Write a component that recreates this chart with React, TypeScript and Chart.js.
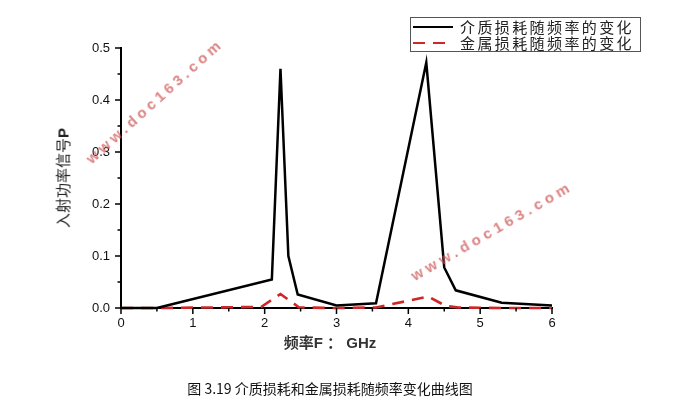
import { useEffect, useRef } from 'react';
import { Chart, registerables } from 'chart.js';

Chart.register(...registerables);

// frequency (GHz) / power values
const dielectricFreq = [0, 0.5, 2.1, 2.22, 2.33, 2.46, 3.0, 3.55, 4.25, 4.5, 4.66, 5.3, 6.0];
const dielectricLoss = [0, 0, 0.055, 0.46, 0.1, 0.026, 0.005, 0.009, 0.472, 0.078, 0.034, 0.01, 0.005];

const metalFreq = [0, 0.5, 1.95, 2.22, 2.48, 3.0, 3.55, 4.28, 4.52, 4.7, 5.3, 6.0];
const metalLoss = [0, 0, 0.002, 0.027, 0.001, 0, 0.001, 0.022, 0.004, 0.001, 0, 0];

const seriesNames = ['介质损耗随频率的变化', '金属损耗随频率的变化'];
const seriesColors = ['#000000', '#cf2727'];

const xMajor = [0, 1, 2, 3, 4, 5, 6];
const xMinor = [0.5, 1.5, 2.5, 3.5, 4.5, 5.5];
const yMajor = [0, 0.1, 0.2, 0.3, 0.4, 0.5];
const yMinor = [0.05, 0.15, 0.25, 0.35, 0.45];

const xTitle = '频率F ： GHz';
const yTitle = '入射功率信号P';
const caption = '图 3.19 介质损耗和金属损耗随频率变化曲线图';
const watermark = 'www.doc163.com';

const tickMarks = {
  id: 'tickMarks',
  afterDraw(chart: any) {
    const { ctx, scales } = chart;
    const x = scales.x;
    const y = scales.y;
    ctx.save();
    ctx.strokeStyle = '#000';
    ctx.lineWidth = 1.5;
    ctx.beginPath();
    xMajor.forEach((v) => {
      const px = x.getPixelForValue(v);
      ctx.moveTo(px, y.bottom);
      ctx.lineTo(px, y.bottom + 6);
    });
    xMinor.forEach((v) => {
      const px = x.getPixelForValue(v);
      ctx.moveTo(px, y.bottom);
      ctx.lineTo(px, y.bottom + 3.5);
    });
    yMajor.forEach((v) => {
      const py = y.getPixelForValue(v);
      ctx.moveTo(x.left, py);
      ctx.lineTo(x.left - 6, py);
    });
    yMinor.forEach((v) => {
      const py = y.getPixelForValue(v);
      ctx.moveTo(x.left, py);
      ctx.lineTo(x.left - 3.5, py);
    });
    ctx.stroke();
    ctx.restore();
  }
};

function LegendSample({ dashed, color }: { dashed: boolean; color: string }) {
  return (
    <svg width="40" height="6" style={{ display: 'block' }}>
      <line x1="0" y1="3" x2="40" y2="3" stroke={color} strokeWidth="2.2"
        strokeDasharray={dashed ? '12 8' : undefined} />
    </svg>
  );
}

export default function App() {
  const canvasRef = useRef<HTMLCanvasElement>(null);
  const chartRef = useRef<Chart | null>(null);

  useEffect(() => {
    if (!canvasRef.current) return;
    if (chartRef.current) chartRef.current.destroy();

    const tickFont = { family: '"Liberation Sans", Arial, sans-serif', size: 13 };

    chartRef.current = new Chart(canvasRef.current, {
      type: 'line',
      data: {
        datasets: [
          {
            label: seriesNames[0],
            data: dielectricFreq.map((f, i) => ({ x: f, y: dielectricLoss[i] })),
            borderColor: seriesColors[0],
            borderWidth: 2.5,
            pointRadius: 0,
            tension: 0,
            fill: false,
            clip: false as any
          },
          {
            label: seriesNames[1],
            data: metalFreq.map((f, i) => ({ x: f, y: metalLoss[i] })),
            borderColor: seriesColors[1],
            borderWidth: 2.6,
            borderDash: [12, 8],
            pointRadius: 0,
            tension: 0,
            fill: false,
            clip: false as any
          }
        ]
      },
      options: {
        responsive: true,
        maintainAspectRatio: false,
        animation: false,
        layout: { padding: { left: 71, right: 129, top: 48, bottom: 72 } },
        plugins: {
          legend: { display: false },
          tooltip: { enabled: false }
        },
        scales: {
          x: {
            type: 'linear',
            min: 0,
            max: 6,
            afterBuildTicks: (scale: any) => {
              scale.ticks = xMajor.map((v) => ({ value: v }));
            },
            afterFit: (scale: any) => {
              scale.height = 30;
            },
            grid: { drawOnChartArea: false, drawTicks: false },
            border: { display: true, color: '#000', width: 2 },
            ticks: {
              color: '#111',
              font: tickFont,
              padding: 8,
              maxRotation: 0,
              callback: (v: any) => String(v)
            }
          },
          y: {
            type: 'linear',
            min: 0,
            max: 0.5,
            afterBuildTicks: (scale: any) => {
              scale.ticks = yMajor.map((v) => ({ value: v }));
            },
            afterFit: (scale: any) => {
              scale.width = 50;
            },
            grid: { drawOnChartArea: false, drawTicks: false },
            border: { display: true, color: '#000', width: 2 },
            ticks: {
              color: '#111',
              font: tickFont,
              padding: 11,
              callback: (v: any) => Number(v).toFixed(1)
            }
          }
        }
      },
      plugins: [tickMarks]
    } as any);

    return () => {
      if (chartRef.current) {
        chartRef.current.destroy();
        chartRef.current = null;
      }
    };
  }, []);

  const cjk = '"Noto Sans CJK SC", "DejaVu Sans", sans-serif';
  const wmStyle = {
    position: 'absolute' as const, transformOrigin: 'left center', whiteSpace: 'nowrap' as const,
    fontFamily: '"Liberation Sans", sans-serif', fontSize: 15, fontWeight: 'bold' as const,
    color: 'rgba(205, 80, 80, 0.7)'
  };

  return (
    <div style={{ position: 'absolute', left: 0, top: 0, width: 681, height: 410, background: '#fff', overflow: 'hidden' }}>
      <canvas ref={canvasRef} />

      {/* legend box */}
      <div style={{
        position: 'absolute', left: 410, top: 17, width: 231, height: 35,
        border: '1px solid #555', boxSizing: 'border-box', background: '#fff',
        padding: '1px 0 0 2px'
      }}>
        {seriesNames.map((name, i) => (
          <div key={name} style={{ display: 'flex', alignItems: 'center', height: 16 }}>
            <LegendSample dashed={i === 1} color={seriesColors[i]} />
            <span style={{ marginLeft: 7, fontFamily: cjk, fontSize: 15, letterSpacing: 2.4, color: '#222', lineHeight: '16px' }}>
              {name}
            </span>
          </div>
        ))}
      </div>

      {/* axis titles */}
      <div style={{
        position: 'absolute', left: 230, top: 331, width: 200, textAlign: 'center',
        fontFamily: '"Liberation Sans", ' + cjk, fontWeight: 'bold', fontSize: 15, color: '#333'
      }}>
        {xTitle}
      </div>
      <div style={{
        position: 'absolute', left: 62, top: 178, transform: 'translate(-50%, -50%) rotate(-90deg)',
        whiteSpace: 'nowrap', fontFamily: cjk, fontSize: 15, color: '#222'
      }}>
        {yTitle.slice(0, -1)}<b style={{ fontFamily: '"Liberation Sans", sans-serif' }}>{yTitle.slice(-1)}</b>
      </div>

      {/* caption */}
      <div style={{
        position: 'absolute', left: 0, top: 378, width: 660, textAlign: 'center',
        fontFamily: cjk, fontSize: 14, color: '#111'
      }}>
        {caption}
      </div>

      {/* watermarks */}
      <div style={{ ...wmStyle, left: 88, top: 152, transform: 'rotate(-42deg)', letterSpacing: 3.8 }}>
        {watermark}
      </div>
      <div style={{ ...wmStyle, left: 412, top: 268, transform: 'rotate(-30deg)', letterSpacing: 4.2 }}>
        {watermark}
      </div>
    </div>
  );
}
